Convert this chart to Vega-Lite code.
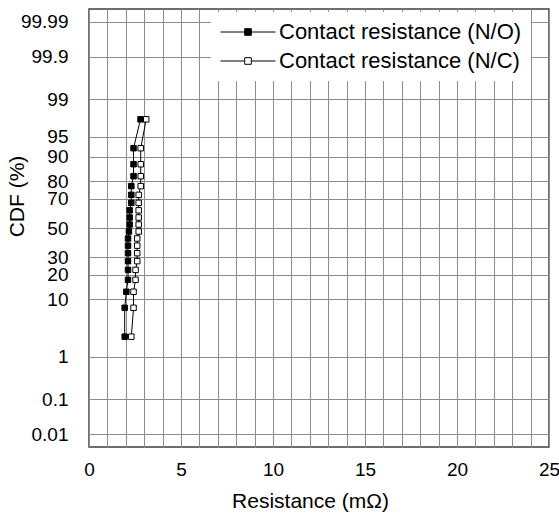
{
  "$schema": "https://vega.github.io/schema/vega-lite/v6.json",
  "width": 460,
  "height": 438,
  "autosize": {"type": "none"},
  "padding": {"left": 89, "top": 9, "right": 10, "bottom": 72},
  "background": "white",
  "data": {
    "values": [
      {"series": "Contact resistance (N/O)", "resistance": 1.94, "cdf": 2.5},
      {"series": "Contact resistance (N/O)", "resistance": 1.94, "cdf": 7.5},
      {"series": "Contact resistance (N/O)", "resistance": 2.03, "cdf": 12.5},
      {"series": "Contact resistance (N/O)", "resistance": 2.12, "cdf": 17.5},
      {"series": "Contact resistance (N/O)", "resistance": 2.12, "cdf": 22.5},
      {"series": "Contact resistance (N/O)", "resistance": 2.12, "cdf": 27.5},
      {"series": "Contact resistance (N/O)", "resistance": 2.12, "cdf": 32.5},
      {"series": "Contact resistance (N/O)", "resistance": 2.12, "cdf": 37.5},
      {"series": "Contact resistance (N/O)", "resistance": 2.12, "cdf": 42.5},
      {"series": "Contact resistance (N/O)", "resistance": 2.17, "cdf": 47.5},
      {"series": "Contact resistance (N/O)", "resistance": 2.21, "cdf": 52.5},
      {"series": "Contact resistance (N/O)", "resistance": 2.21, "cdf": 57.5},
      {"series": "Contact resistance (N/O)", "resistance": 2.21, "cdf": 62.5},
      {"series": "Contact resistance (N/O)", "resistance": 2.3, "cdf": 67.5},
      {"series": "Contact resistance (N/O)", "resistance": 2.3, "cdf": 72.5},
      {"series": "Contact resistance (N/O)", "resistance": 2.3, "cdf": 77.5},
      {"series": "Contact resistance (N/O)", "resistance": 2.42, "cdf": 82.5},
      {"series": "Contact resistance (N/O)", "resistance": 2.42, "cdf": 87.5},
      {"series": "Contact resistance (N/O)", "resistance": 2.42, "cdf": 92.5},
      {"series": "Contact resistance (N/O)", "resistance": 2.8, "cdf": 97.5},
      {"series": "Contact resistance (N/C)", "resistance": 2.3, "cdf": 2.5},
      {"series": "Contact resistance (N/C)", "resistance": 2.42, "cdf": 7.5},
      {"series": "Contact resistance (N/C)", "resistance": 2.42, "cdf": 12.5},
      {"series": "Contact resistance (N/C)", "resistance": 2.53, "cdf": 17.5},
      {"series": "Contact resistance (N/C)", "resistance": 2.53, "cdf": 22.5},
      {"series": "Contact resistance (N/C)", "resistance": 2.62, "cdf": 27.5},
      {"series": "Contact resistance (N/C)", "resistance": 2.62, "cdf": 32.5},
      {"series": "Contact resistance (N/C)", "resistance": 2.62, "cdf": 37.5},
      {"series": "Contact resistance (N/C)", "resistance": 2.62, "cdf": 42.5},
      {"series": "Contact resistance (N/C)", "resistance": 2.7, "cdf": 47.5},
      {"series": "Contact resistance (N/C)", "resistance": 2.7, "cdf": 52.5},
      {"series": "Contact resistance (N/C)", "resistance": 2.7, "cdf": 57.5},
      {"series": "Contact resistance (N/C)", "resistance": 2.7, "cdf": 62.5},
      {"series": "Contact resistance (N/C)", "resistance": 2.7, "cdf": 67.5},
      {"series": "Contact resistance (N/C)", "resistance": 2.7, "cdf": 72.5},
      {"series": "Contact resistance (N/C)", "resistance": 2.81, "cdf": 77.5},
      {"series": "Contact resistance (N/C)", "resistance": 2.81, "cdf": 82.5},
      {"series": "Contact resistance (N/C)", "resistance": 2.81, "cdf": 87.5},
      {"series": "Contact resistance (N/C)", "resistance": 2.81, "cdf": 92.5},
      {"series": "Contact resistance (N/C)", "resistance": 3.11, "cdf": 97.5}
    ]
  },
  "transform": [
    {"calculate": "quantileNormal(datum.cdf / 100)", "as": "probit"}
  ],
  "encoding": {
    "x": {
      "field": "resistance",
      "type": "quantitative",
      "scale": {"domain": [0, 25], "nice": false, "zero": false},
      "axis": {
        "title": "Resistance (mΩ)",
        "values": [0,1,2,3,4,5,6,7,8,9,10,11,12,13,14,15,16,17,18,19,20,21,22,23,24,25],
        "labelExpr": "datum.value % 5 === 0 ? datum.label : ''",
        "labelFlush": false,
        "labelOverlap": false,
        "labelPadding": 13,
        "labelDx": -3,
        "titleX": 221,
        "titleY": 60,
        "titleBaseline": "alphabetic",
        "titleAnchor": "middle"
      }
    },
    "y": {
      "field": "probit",
      "type": "quantitative",
      "scale": {"domain": [-3.95, 3.95], "nice": false, "zero": false},
      "axis": {
        "title": "CDF (%)",
        "values": [-3.719, -3.0902, -2.3263, -1.28155, -0.84162, -0.5244, 0, 0.5244, 0.84162, 1.28155, 1.64485, 2.3263, 3.0902, 3.719],
        "labelExpr": "toString(round(cumulativeNormal(datum.value) * 10000) / 100)",
        "labelOverlap": false,
        "labelPadding": 21,
        "titleX": -72,
        "titleY": 187,
        "titleAngle": 270,
        "titleAlign": "center",
        "titleBaseline": "middle"
      }
    }
  },
  "layer": [
    {
      "mark": {"type": "line", "color": "black", "strokeWidth": 1},
      "encoding": {
        "detail": {"field": "series"},
        "order": {"field": "cdf", "type": "quantitative"}
      }
    },
    {
      "mark": {"type": "point", "shape": "square", "filled": true, "size": 30, "stroke": "black", "strokeWidth": 1, "opacity": 1},
      "encoding": {
        "fill": {
          "field": "series",
          "type": "nominal",
          "scale": {"domain": ["Contact resistance (N/O)", "Contact resistance (N/C)"], "range": ["black", "white"]},
          "legend": {
            "title": null,
            "orient": "none",
            "legendX": 122,
            "legendY": 3,
            "fillColor": "white",
            "padding": 9,
            "symbolType": "M-1,0H-0.12M0.12,0H1M-0.12,-0.12H0.12V0.12H-0.12Z",
            "symbolSize": 3025,
            "symbolStrokeColor": "black",
            "symbolStrokeWidth": 1,
            "symbolOpacity": 1,
            "clipHeight": 22,
            "rowPadding": 7,
            "labelOffset": 3,
            "labelFontSize": 22,
            "labelLimit": 0,
            "labelColor": "black"
          }
        }
      }
    }
  ],
  "config": {
    "font": "Liberation Sans",
    "view": {"stroke": "#404040", "strokeWidth": 1.5},
    "axis": {
      "domain": false,
      "ticks": false,
      "grid": true,
      "gridColor": "#8c8c8c",
      "gridWidth": 1,
      "gridOpacity": 1,
      "labelFont": "Liberation Sans",
      "labelFontSize": 19,
      "labelColor": "black",
      "titleFont": "Liberation Sans",
      "titleFontSize": 21,
      "titleFontWeight": "normal",
      "titleColor": "black"
    },
    "legend": {"labelFont": "Liberation Sans"}
  }
}
